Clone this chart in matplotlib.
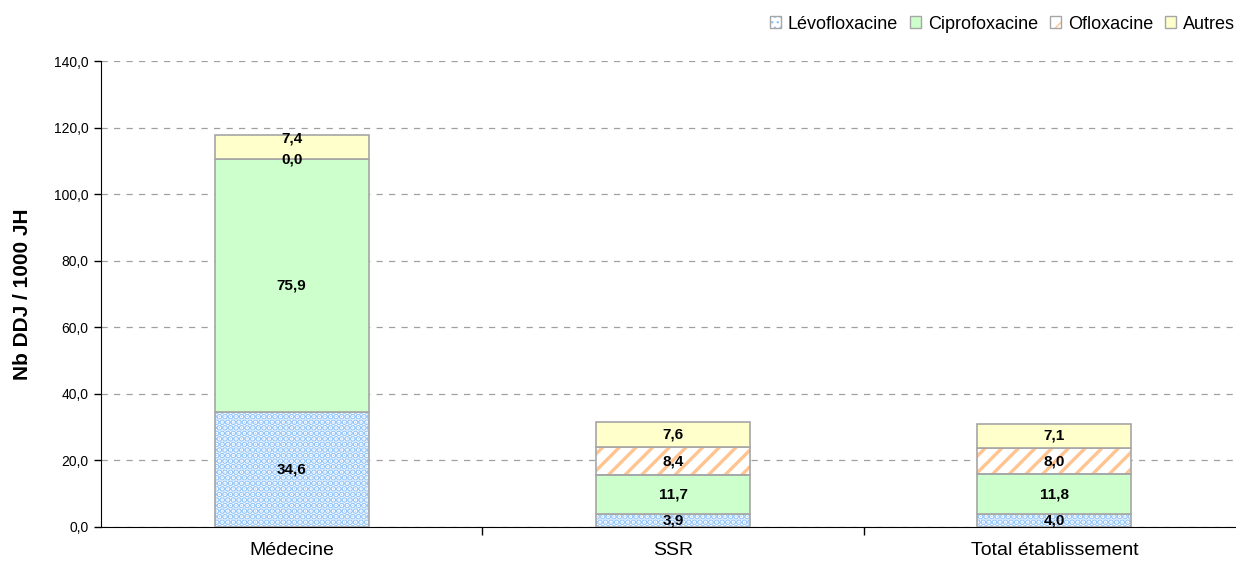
import matplotlib
matplotlib.use("Agg")
import matplotlib.pyplot as plt
from matplotlib.patches import Patch
from matplotlib.legend_handler import HandlerTuple
import numpy as np

categories = ["Médecine", "SSR", "Total établissement"]
series_names = ["Lévofloxacine", "Ciprofoxacine", "Ofloxacine", "Autres"]
levofloxacine = [34.6, 3.9, 4.0]
ciprofoxacine = [75.9, 11.7, 11.8]
ofloxacine = [0.0, 8.4, 8.0]
autres = [7.4, 7.6, 7.1]
yticks = [0, 20, 40, 60, 80, 100, 120, 140]

plt.rcParams['font.family'] = ['Liberation Sans', 'DejaVu Sans']

fig = plt.figure(figsize=(12.36, 5.66), dpi=100)
ax = fig.add_axes([101/1236, 39/566, 1144/1236, 466/566])

x = np.arange(len(categories))
width = 0.404
edge = '#A6A6A6'

styles = [
    dict(face='white', hatch='...', hcolor='#92C5FA', hlw=3.2),
    dict(face='#CCFFCC', hatch=None, hcolor=None, hlw=1),
    dict(face='white', hatch='//', hcolor='#FFC48F', hlw=2.4),
    dict(face='#FFFFCC', hatch=None, hcolor=None, hlw=1),
]
data = [levofloxacine, ciprofoxacine, ofloxacine, autres]
bottom = np.zeros(len(categories))
handles = []
for name, vals, st in zip(series_names, data, styles):
    vals = np.array(vals)
    plt.rcParams['hatch.linewidth'] = st['hlw']
    if st['hatch']:
        ax.bar(x, vals, width, bottom=bottom, color=st['face'], hatch=st['hatch'],
               edgecolor=st['hcolor'], linewidth=0, zorder=2)
        ax.bar(x, vals, width, bottom=bottom, color='none', edgecolor=edge,
               linewidth=1.2, zorder=3)
        h1 = Patch(facecolor=st['face'], edgecolor=st['hcolor'], hatch=st['hatch'],
                   linewidth=0)
        h2 = Patch(facecolor='none', edgecolor=edge, linewidth=1.0)
        h = (h1, h2)
    else:
        ax.bar(x, vals, width, bottom=bottom, color=st['face'], edgecolor=edge,
               linewidth=1.2, zorder=3)
        h = Patch(facecolor=st['face'], edgecolor=edge, linewidth=1.0)
    handles.append(h)
    for i, v in enumerate(vals):
        yc = bottom[i] + v / 2
        dy = 0
        if name == "Autres" and ofloxacine[i] == 0.0:
            dy = 6
        ax.annotate(f"{v:.1f}".replace('.', ','), (x[i], yc), xytext=(0, dy),
                    textcoords='offset points', ha='center', va='center',
                    fontsize=11, fontweight='bold', zorder=5)
    bottom = bottom + vals

ax.set_xlim(-0.5, 2.5)
ax.set_ylim(0, 140)
ax.set_yticks(yticks)
ax.set_yticklabels([f"{t:.1f}".replace('.', ',') for t in yticks], fontsize=10)
ax.set_xticks(x)
ax.set_xticklabels(categories, fontsize=14)
ax.tick_params(axis='x', length=0, pad=11)
ax.set_xticks([0.5, 1.5], minor=True)
ax.tick_params(axis='x', which='minor', length=6, direction='out', width=1)
ax.tick_params(axis='y', length=5, direction='out', width=1, pad=4)
ax.yaxis.grid(True, linestyle=(0, (5, 5)), color='#A0A0A0', linewidth=0.9, zorder=0)
ax.set_axisbelow(True)
for s in ['top', 'right']:
    ax.spines[s].set_visible(False)
ax.spines['left'].set_color('black')
ax.spines['bottom'].set_color('black')
ax.set_ylabel("Nb DDJ / 1000 JH", fontsize=15, fontweight='bold', labelpad=16)

fig.legend(handles, series_names, loc='upper right', bbox_to_anchor=(1.007, 0.99),
           ncol=4, frameon=False, fontsize=13, handlelength=0.65, handleheight=0.65,
           handletextpad=0.35, columnspacing=0.65, borderaxespad=0.35,
           borderpad=0.2, handler_map={tuple: HandlerTuple(ndivide=1, pad=0)})

fig.savefig("out.png", dpi=100)
